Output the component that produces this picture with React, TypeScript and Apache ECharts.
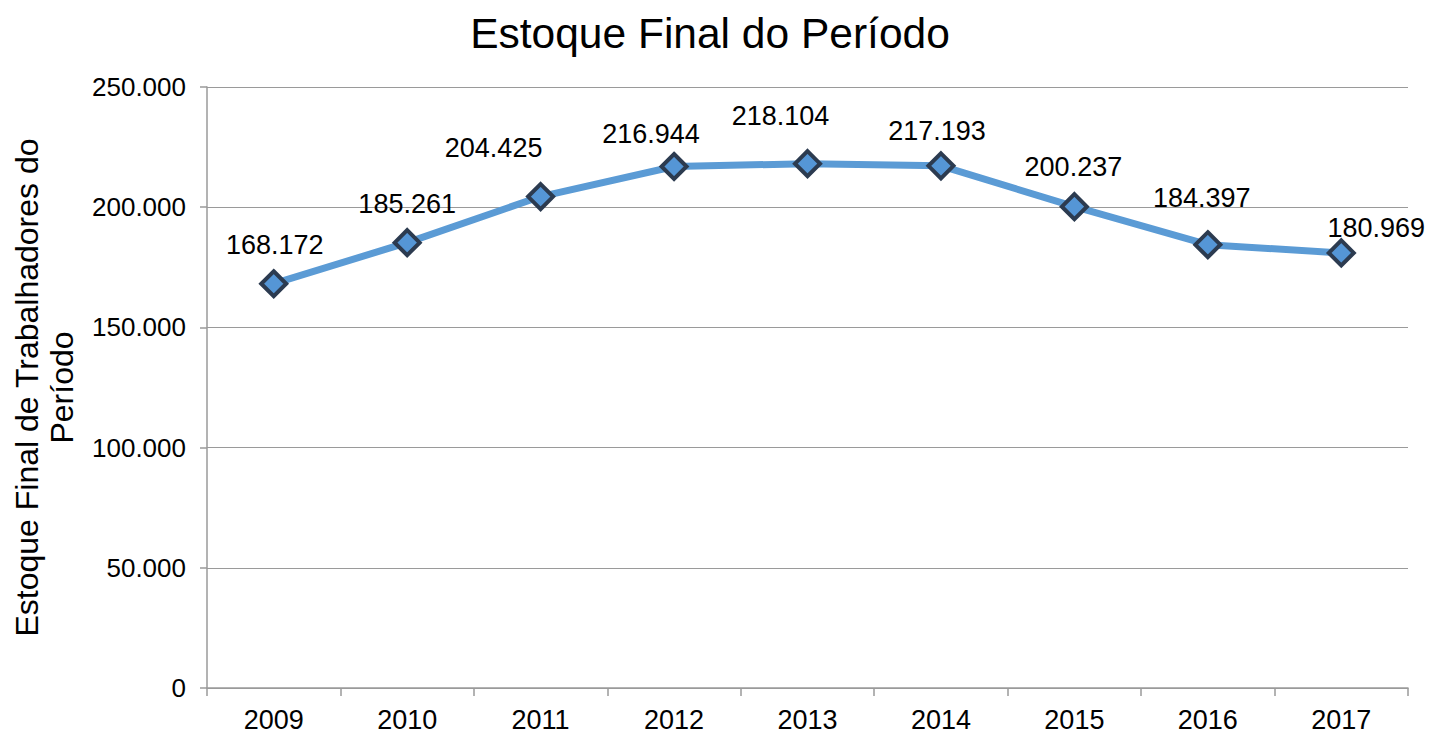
import React, { useEffect, useRef } from "react";
import * as echarts from "echarts";

const years = ["2009", "2010", "2011", "2012", "2013", "2014", "2015", "2016", "2017"];
const stock = [168172, 185261, 204425, 216944, 218104, 217193, 200237, 184397, 180969];
const labelOffsets: [number, number][] = [
  [1, -39], [0, -39], [-47, -49], [-23, -32], [-27, -48], [-4, -35], [-1, -40], [-6, -47], [35, -25],
];

const fmtLabel = (v: number) => String(Math.round(v)).replace(/\B(?=(\d{3})+(?!\d))/g, ".");

export default function App() {
  const ref = useRef<HTMLDivElement>(null);
  useEffect(() => {
    document.body.style.margin = "0";
    const chart = echarts.init(ref.current!, null, { renderer: "svg" });
    const font = "Liberation Sans, Arial, sans-serif";
    chart.setOption({
      animation: false,
      backgroundColor: "#ffffff",
      title: {
        text: "Estoque Final do Período",
        left: 705,
        textAlign: "center",
        top: 7,
        textStyle: { fontFamily: font, fontSize: 42.5, fontWeight: "normal", color: "#000" },
      },
      grid: { left: 207, right: 23, top: 87, bottom: 48, outerBoundsMode: "none", containLabel: false },
      xAxis: {
        type: "category",
        data: years,
        boundaryGap: true,
        axisLine: { lineStyle: { color: "#9a9a9a", width: 1.5 } },
        axisTick: { show: true, length: 8, lineStyle: { color: "#9a9a9a", width: 1.5 } },
        axisLabel: { fontFamily: font, fontSize: 27, color: "#000", margin: 18 },
      },
      yAxis: {
        type: "value",
        min: 0,
        max: 250000,
        interval: 50000,
        name: "Estoque Final de Trabalhadores do\nPeríodo",
        nameLocation: "middle",
        nameGap: 128,
        nameTextStyle: { fontFamily: font, fontSize: 32, color: "#000", lineHeight: 35 },
        axisLine: { show: true, lineStyle: { color: "#9a9a9a", width: 1.5 } },
        axisTick: { show: true, length: 7, lineStyle: { color: "#9a9a9a", width: 1.5 } },
        splitLine: { lineStyle: { color: "#9a9a9a", width: 1.2 } },
        axisLabel: {
          fontFamily: font,
          fontSize: 26,
          color: "#000",
          margin: 21,
          formatter: (v: number) => fmtLabel(v),
        },
      },
      series: [
        {
          type: "line",
          data: stock.map((v, i) => ({
            value: v,
            label: { offset: labelOffsets[i] },
          })),
          lineStyle: { color: "#5b9bd5", width: 7 },
          symbol: "diamond",
          symbolSize: 25,
          itemStyle: { color: "#5596d6", borderColor: "#2c3b50", borderWidth: 4 },
          label: {
            show: true,
            position: "inside",
            fontFamily: font,
            fontSize: 27,
            color: "#000",
            formatter: (p: any) => fmtLabel(p.value),
          },
          z: 3,
        },
      ],
    });
    return () => chart.dispose();
  }, []);
  return <div ref={ref} style={{ width: 1431, height: 736 }} />;
}
